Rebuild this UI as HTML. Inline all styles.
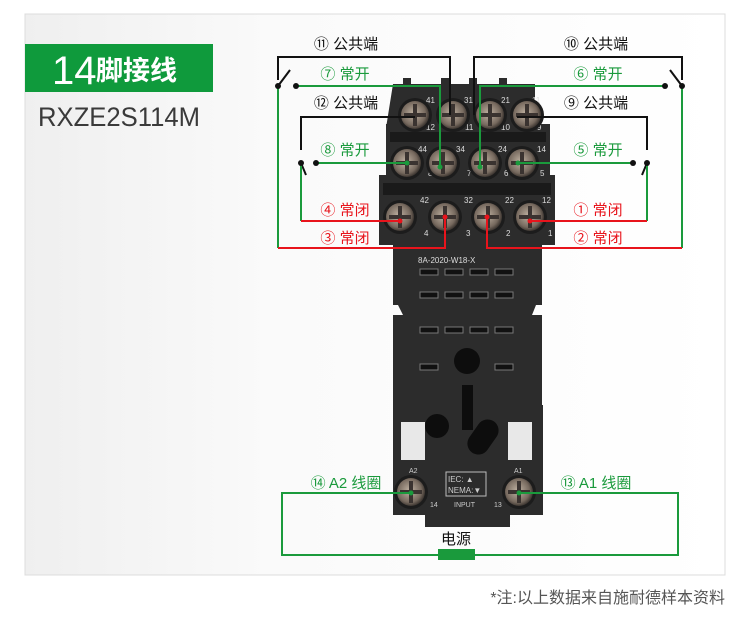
<!DOCTYPE html>
<html><head><meta charset="utf-8"><style>
html,body{margin:0;padding:0;background:#fff;}
svg{display:block;}
text{font-family:"Liberation Sans","Noto Sans CJK SC",sans-serif;}
</style></head><body>
<svg width="750" height="630" viewBox="0 0 750 630" xmlns="http://www.w3.org/2000/svg">
<defs>
<linearGradient id="bg" x1="0" x2="1" y1="0" y2="0">
<stop offset="0" stop-color="#efefef"/><stop offset="0.35" stop-color="#fafafa"/><stop offset="1" stop-color="#ffffff"/>
</linearGradient>
<radialGradient id="scr" cx="0.45" cy="0.45" r="0.6">
<stop offset="0" stop-color="#c0b2a2"/><stop offset="0.7" stop-color="#76695e"/><stop offset="1" stop-color="#2a2522"/>
</radialGradient>
<g id="screw">
<circle r="17" fill="#1c1c1c"/>
<circle r="14" fill="url(#scr)"/>
<path d="M-11,-2 h22 v4 h-22z M-2,-11 h4 v22 h-4z" fill="#3a3330"/>
</g>
</defs>
<rect width="750" height="630" fill="#fff"/>
<rect x="25" y="14" width="700" height="561" fill="url(#bg)" stroke="#dcdcdc" stroke-width="1"/>
<rect x="25" y="44" width="188" height="48" fill="#0f9a3c"/>
<text x="52" y="84" fill="#fff" font-size="40">14</text>
<text x="96" y="80" fill="#fff" font-size="27" font-weight="bold">脚接线</text>
<text x="38" y="126" fill="#3a3a3a" font-size="27" textLength="162" lengthAdjust="spacingAndGlyphs">RXZE2S114M</text>

<!-- body -->
<g fill="#2c2c2c">
<path d="M393,84 h10 v-6 h8 v6 h30 v-6 h8 v6 h20 v-6 h8 v6 h22 v-6 h8 v6 h28 v44 h-149z"/>
<rect x="386" y="124" width="164" height="56"/>
<rect x="379" y="175" width="176" height="70"/>
<rect x="393" y="240" width="149" height="65"/>
<path d="M398,305 h138 l-4,10 h10 v95 h-149 v-95 h10z"/>
<rect x="393" y="405" width="150" height="110"/>
<rect x="425" y="510" width="85" height="17"/>
</g>
<g fill="#1a1a1a">
<rect x="390" y="132" width="156" height="10"/>
<rect x="383" y="183" width="168" height="12"/>
</g>
<g fill="#111" stroke="#777" stroke-width="1">
<rect x="420" y="269" width="18" height="6"/><rect x="445" y="269" width="18" height="6"/><rect x="470" y="269" width="18" height="6"/><rect x="495" y="269" width="18" height="6"/>
<rect x="420" y="292" width="18" height="6"/><rect x="445" y="292" width="18" height="6"/><rect x="470" y="292" width="18" height="6"/><rect x="495" y="292" width="18" height="6"/>
<rect x="420" y="327" width="18" height="6"/><rect x="445" y="327" width="18" height="6"/><rect x="470" y="327" width="18" height="6"/><rect x="495" y="327" width="18" height="6"/>
<rect x="420" y="364" width="18" height="6"/><rect x="495" y="364" width="18" height="6"/>
</g>
<text x="418" y="263" fill="#ddd" font-size="8">8A-2020-W18-X</text>
<circle cx="467" cy="361" r="13" fill="#0d0d0d"/>
<rect x="462" y="385" width="11" height="45" fill="#0d0d0d"/>
<circle cx="437" cy="426" r="12" fill="#0d0d0d"/>
<rect x="472" y="418" width="22" height="38" rx="11" fill="#0d0d0d" transform="rotate(35 483 437)"/>
<rect x="401" y="422" width="24" height="38" fill="#e8e8e8"/>
<rect x="508" y="422" width="24" height="38" fill="#e8e8e8"/>
<rect x="446" y="472" width="40" height="24" fill="none" stroke="#bbb" stroke-width="1"/>
<text x="448" y="482" fill="#ccc" font-size="8">IEC:  ▲</text>
<text x="448" y="493" fill="#ccc" font-size="8">NEMA:▼</text>
<text x="409" y="473" fill="#ccc" font-size="7">A2</text>
<text x="514" y="473" fill="#ccc" font-size="7">A1</text>
<text x="430" y="507" fill="#ccc" font-size="7">14</text>
<text x="454" y="507" fill="#ccc" font-size="7">INPUT</text>
<text x="494" y="507" fill="#ccc" font-size="7">13</text>
<g fill="#ddd" font-size="8">
<text x="426" y="103">41</text><text x="464" y="103">31</text><text x="501" y="103">21</text><text x="532" y="103">11</text>
<text x="426" y="130">12</text><text x="465" y="130">11</text><text x="501" y="130">10</text><text x="537" y="130">9</text>
<text x="418" y="152">44</text><text x="456" y="152">34</text><text x="498" y="152">24</text><text x="537" y="152">14</text>
<text x="428" y="176">8</text><text x="467" y="176">7</text><text x="504" y="176">6</text><text x="540" y="176">5</text>
<text x="420" y="203">42</text><text x="464" y="203">32</text><text x="505" y="203">22</text><text x="542" y="203">12</text>
<text x="424" y="236">4</text><text x="466" y="236">3</text><text x="506" y="236">2</text><text x="548" y="236">1</text>
</g>
<use href="#screw" x="415" y="115"/><use href="#screw" x="453" y="115"/><use href="#screw" x="490" y="115"/><use href="#screw" x="527" y="115"/>
<use href="#screw" x="407" y="163"/><use href="#screw" x="443" y="163"/><use href="#screw" x="485" y="163"/><use href="#screw" x="522" y="163"/>
<use href="#screw" x="400" y="217"/><use href="#screw" x="445" y="217"/><use href="#screw" x="488" y="217"/><use href="#screw" x="530" y="217"/>
<use href="#screw" x="411" y="492"/><use href="#screw" x="519" y="492"/>

<g fill="none" stroke-width="2">
<path d="M278,80 V57 H450 V115" stroke="#111"/>
<path d="M474,115 V57 H682 V80" stroke="#111"/>
<path d="M415,117 H301 V150" stroke="#111"/>
<path d="M517,117 H647 V150" stroke="#111"/>
<path d="M278,86 L290,70" stroke="#111"/>
<path d="M682,86 L670,70" stroke="#111"/>
<path d="M301,163 L306,175" stroke="#111"/>
<path d="M647,163 L642,175" stroke="#111"/>
<path d="M296,86 H440 V167" stroke="#1a9a3c"/>
<path d="M665,86 H480 V167" stroke="#1a9a3c"/>
<path d="M316,163 H407" stroke="#1a9a3c"/>
<path d="M633,163 H518" stroke="#1a9a3c"/>
<path d="M278,86 V248" stroke="#1a9a3c"/>
<path d="M682,86 V248" stroke="#1a9a3c"/>
<path d="M301,163 V221" stroke="#1a9a3c"/>
<path d="M647,163 V221" stroke="#1a9a3c"/>
<path d="M278,248 H445 V217" stroke="#e8141c"/>
<path d="M682,248 H487 V217" stroke="#e8141c"/>
<path d="M301,221 H400" stroke="#e8141c"/>
<path d="M647,221 H530" stroke="#e8141c"/>
<path d="M411,493 H282 V555 H678 V493 H519" stroke="#1a9a3c"/>
</g>
<g fill="#111">
<circle cx="278" cy="86" r="3"/><circle cx="296" cy="86" r="3"/><circle cx="665" cy="86" r="3"/><circle cx="682" cy="86" r="3"/>
<circle cx="301" cy="163" r="3"/><circle cx="316" cy="163" r="3"/><circle cx="633" cy="163" r="3"/><circle cx="647" cy="163" r="3"/>
</g>
<g fill="#1a9a3c"><circle cx="440" cy="167" r="2.5"/><circle cx="480" cy="167" r="2.5"/><circle cx="407" cy="163" r="2.5"/><circle cx="518" cy="163" r="2.5"/><circle cx="411" cy="493" r="2.5"/><circle cx="519" cy="493" r="2.5"/></g>
<g fill="#e8141c"><circle cx="445" cy="217" r="2.5"/><circle cx="487" cy="217" r="2.5"/><circle cx="400" cy="221" r="2.5"/><circle cx="530" cy="221" r="2.5"/></g>
<rect x="438" y="549" width="37" height="11" fill="#1a9a3c"/>

<g font-size="15" text-anchor="middle">
<text x="346" y="49" fill="#111">⑪ 公共端</text>
<text x="596" y="49" fill="#111">⑩ 公共端</text>
<text x="345" y="79" fill="#1a9a3c">⑦ 常开</text>
<text x="598" y="79" fill="#1a9a3c">⑥ 常开</text>
<text x="346" y="108" fill="#111">⑫ 公共端</text>
<text x="596" y="108" fill="#111">⑨ 公共端</text>
<text x="345" y="155" fill="#1a9a3c">⑧ 常开</text>
<text x="598" y="155" fill="#1a9a3c">⑤ 常开</text>
<text x="345" y="215" fill="#e8141c">④ 常闭</text>
<text x="598" y="215" fill="#e8141c">① 常闭</text>
<text x="345" y="243" fill="#e8141c">③ 常闭</text>
<text x="598" y="243" fill="#e8141c">② 常闭</text>
<text x="346" y="488" fill="#1a9a3c">⑭ A2 线圈</text>
<text x="596" y="488" fill="#1a9a3c">⑬ A1 线圈</text>
<text x="456" y="544" fill="#111">电源</text>
</g>
<text x="725" y="603" fill="#555" font-size="16" text-anchor="end">*注:以上数据来自施耐德样本资料</text>
</svg>
</body></html>
